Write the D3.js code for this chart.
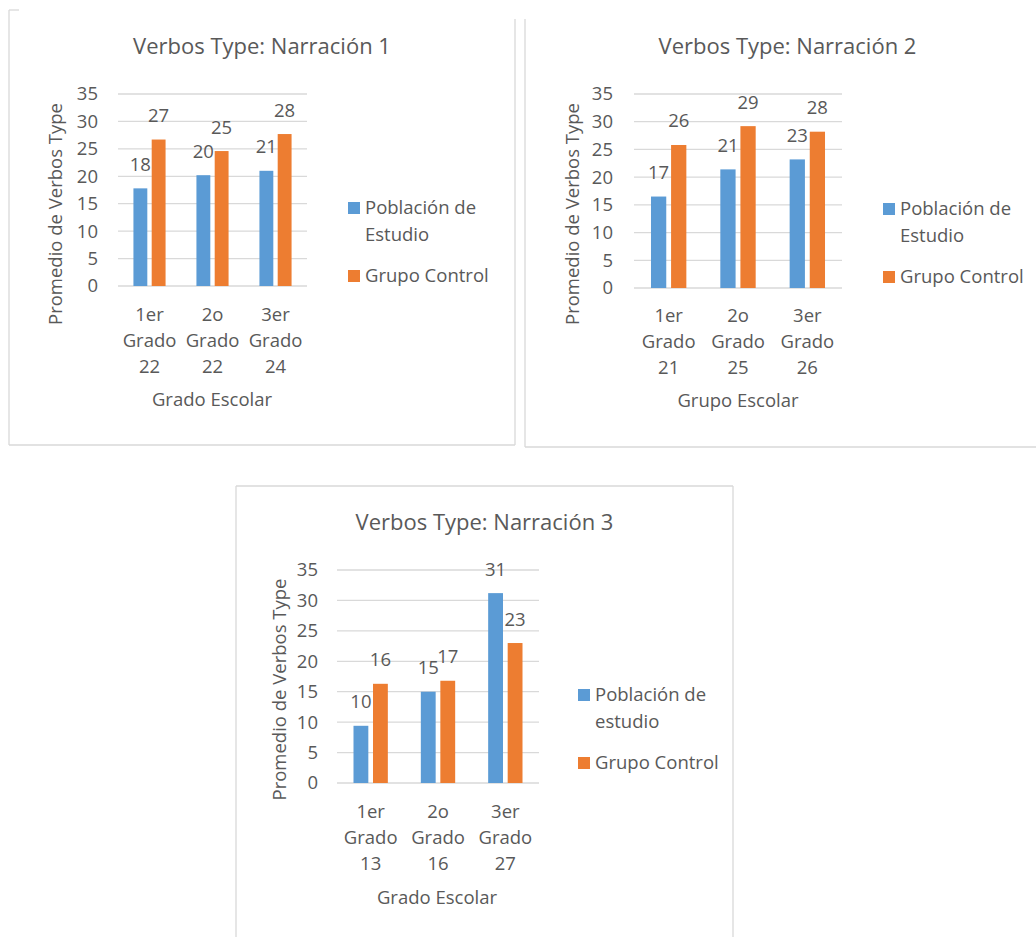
<!DOCTYPE html>
<html><head><meta charset="utf-8">
<script src="https://cdn.jsdelivr.net/npm/d3@7"></script>
<style>body{margin:0;background:#fff;} text{font-family:"Open Sans",sans-serif;fill:#595959;}</style>
</head><body>
<svg id="s" width="1036" height="937"></svg>
<script>
// ---- data ----
const titles = ["Verbos Type: Narración 1", "Verbos Type: Narración 2", "Verbos Type: Narración 3"];
const categories1 = [["1er","Grado","22"],["2o","Grado","22"],["3er","Grado","24"]];
const categories2 = [["1er","Grado","21"],["2o","Grado","25"],["3er","Grado","26"]];
const categories3 = [["1er","Grado","13"],["2o","Grado","16"],["3er","Grado","27"]];
const estudio1 = [17.8, 20.2, 21.0];
const control1 = [26.7, 24.6, 27.7];
const estudio2 = [16.5, 21.4, 23.2];
const control2 = [25.8, 29.2, 28.2];
const estudio3 = [9.4, 15.0, 31.2];
const control3 = [16.3, 16.8, 23.0];
const labels1E = ["18","20","21"], labels1C = ["27","25","28"];
const labels2E = ["17","21","23"], labels2C = ["26","29","28"];
const labels3E = ["10","15","31"], labels3C = ["16","17","23"];
const yTicks = [0,5,10,15,20,25,30,35];
const legend1 = [["Población de","Estudio"],["Grupo Control"]];
const legend3 = [["Población de","estudio"],["Grupo Control"]];
const xTitles = ["Grado Escolar","Grupo Escolar","Grado Escolar"];
const yTitle = "Promedio de Verbos Type";
const colors = ["#5B9BD5","#ED7D31"];

const FS = 18.5, TFS = 22;
const svg = d3.select("#s");
const border = "#D9D9D9";
function line(x1,y1,x2,y2){svg.append("line").attr("x1",x1).attr("y1",y1).attr("x2",x2).attr("y2",y2).attr("stroke",border).attr("stroke-width",1.3);}
// chart frames
line(9,10,9,445); line(9,10,19,10); line(515,19,515,445); line(9,445,515,445);
line(525,19,525,447); line(525,447,1036,447);
line(236,486,236,937); line(236,486,733,486); line(733,486,733,937);

function chart(o){
  const g = svg.append("g");
  const y = d3.scaleLinear().domain([0,35]).range([o.bottom,o.top]);
  const x0 = d3.scaleBand().domain(d3.range(o.cats.length)).range([o.left,o.right]).paddingInner(0.49).paddingOuter(0.245);
  const x1 = d3.scaleBand().domain([0,1]).range([0,x0.bandwidth()]).paddingInner(0.24);
  g.selectAll(".grid").data(yTicks).join("line")
    .attr("x1",o.left).attr("x2",o.right).attr("y1",d=>y(d)).attr("y2",d=>y(d))
    .attr("stroke","#D9D9D9").attr("stroke-width",1.3);
  g.selectAll(".yt").data(yTicks).join("text")
    .attr("x",o.tickRight).attr("y",d=>y(d)).attr("dy","0.35em").attr("text-anchor","end")
    .attr("font-size",FS).text(d=>d);
  const series=[o.est,o.ctl], labs=[o.labE,o.labC];
  series.forEach((vals,si)=>{
    g.selectAll(".b"+si).data(vals).join("rect")
      .attr("x",(d,i)=>x0(i)+x1(si)).attr("width",x1.bandwidth())
      .attr("y",d=>y(d)).attr("height",d=>y(0)-y(d)).attr("fill",colors[si]);
    g.selectAll(".l"+si).data(vals).join("text")
      .attr("x",(d,i)=>x0(i)+x1(si)+x1.bandwidth()/2).attr("y",d=>y(d)-17.5)
      .attr("text-anchor","middle").attr("font-size",FS).text((d,i)=>labs[si][i]);
  });
  o.cats.forEach((c,i)=>{
    c.forEach((t,k)=>{
      g.append("text").attr("x",x0(i)+x0.bandwidth()/2).attr("y",o.xlBase+k*26)
        .attr("text-anchor","middle").attr("font-size",FS).text(t);
    });
  });
  g.append("text").attr("x",o.xtX).attr("y",o.xtY).attr("text-anchor","middle").attr("font-size",FS).text(o.xTitle);
  g.append("text").attr("transform",`translate(${o.ytX},${o.ytY}) rotate(-90)`).attr("dy","0.35em")
    .attr("text-anchor","middle").attr("font-size",FS).text(yTitle);
  g.append("text").attr("x",o.tX).attr("y",o.tY).attr("text-anchor","middle").attr("font-size",TFS).text(o.title);
  const lgY=[o.lgY,o.lgY+68];
  o.legend.forEach((lines,si)=>{
    g.append("rect").attr("x",o.lgX).attr("y",lgY[si]).attr("width",12).attr("height",12).attr("fill",colors[si]);
    lines.forEach((t,k)=>{
      g.append("text").attr("x",o.lgX+17).attr("y",lgY[si]+12+k*27).attr("font-size",FS).text(t);
    });
  });
}

chart({title:titles[0],cats:categories1,est:estudio1,ctl:control1,labE:labels1E,labC:labels1C,legend:legend1,xTitle:xTitles[0],
  left:118,right:307,top:94,bottom:286,tickRight:98,ytX:56,ytY:214,xlBase:321,xtX:212,xtY:406,tX:262,tY:54,lgX:348,lgY:202});
chart({title:titles[1],cats:categories2,est:estudio2,ctl:control2,labE:labels2E,labC:labels2C,legend:legend1,xTitle:xTitles[1],
  left:634,right:842,top:94,bottom:288,tickRight:613,ytX:573,ytY:214,xlBase:322,xtX:738,xtY:407,tX:787.5,tY:54,lgX:883,lgY:203});
chart({title:titles[2],cats:categories3,est:estudio3,ctl:control3,labE:labels3E,labC:labels3C,legend:legend3,xTitle:xTitles[2],
  left:337,right:539,top:570,bottom:783,tickRight:318,ytX:280,ytY:689.5,xlBase:818,xtX:437,xtY:904,tX:484.5,tY:530,lgX:578,lgY:689});
</script>
</body></html>
